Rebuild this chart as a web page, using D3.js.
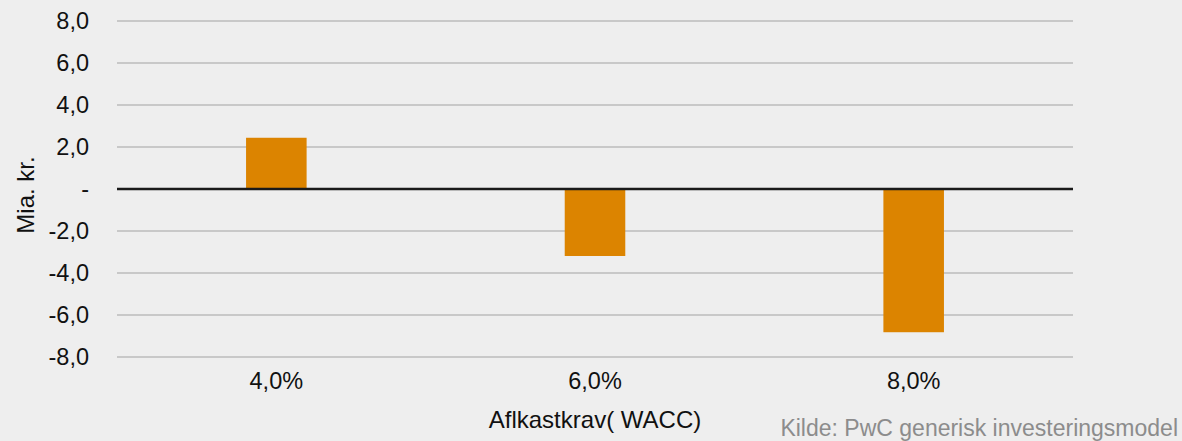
<!DOCTYPE html>
<html>
<head>
<meta charset="utf-8">
<script src="https://cdn.jsdelivr.net/npm/d3@7"></script>
<style>
  html, body { margin: 0; padding: 0; background: #eeeeee; }
  svg { display: block; font-family: "Liberation Sans", Arial, sans-serif; }
</style>
</head>
<body>
<div id="chart"></div>
<script>
// data
const categories = ['4,0%', '6,0%', '8,0%'];
const values = [2.44, -3.19, -6.82];
const yTicks = [8, 6, 4, 2, 0, -2, -4, -6, -8];

const width = 1182, height = 441;
const margin = {top: 21, right: 109, bottom: 84, left: 117};

const svg = d3.select('#chart').append('svg')
    .attr('width', width)
    .attr('height', height);

svg.append('rect')
    .attr('width', width)
    .attr('height', height)
    .attr('fill', '#eeeeee');

const x = d3.scaleBand()
    .domain(categories)
    .range([margin.left, width - margin.right])
    .paddingInner(0.81)
    .paddingOuter(0.405);

const y = d3.scaleLinear()
    .domain([-8, 8])
    .range([height - margin.bottom, margin.top]);

// gridlines
svg.append('g')
    .selectAll('line')
    .data(yTicks.filter(d => d !== 0))
    .enter()
    .append('line')
    .attr('x1', margin.left)
    .attr('x2', width - margin.right)
    .attr('y1', d => y(d))
    .attr('y2', d => y(d))
    .attr('stroke', '#bbbbbb')
    .attr('stroke-width', 1.6);

// y axis labels (plain hyphen for negatives, dash for zero)
const fmt = d => d === 0 ? '-' : d.toFixed(1).replace('.', ',');
const yAxis = d3.axisLeft(y).tickValues(yTicks).tickFormat(fmt).tickSize(0).tickPadding(0);
svg.append('g')
    .attr('transform', 'translate(89,0)')
    .call(yAxis)
    .call(g => g.select('.domain').remove())
    .selectAll('text')
    .attr('font-size', 23.5)
    .attr('font-family', '"Liberation Sans", Arial, sans-serif')
    .attr('fill', '#111');

// bars
svg.append('g')
    .selectAll('rect')
    .data(values)
    .enter()
    .append('rect')
    .attr('x', (d, i) => x(categories[i]))
    .attr('width', x.bandwidth())
    .attr('y', d => y(Math.max(0, d)))
    .attr('height', d => Math.abs(y(d) - y(0)))
    .attr('fill', '#dc8400');

// zero line
svg.append('line')
    .attr('x1', margin.left)
    .attr('x2', width - margin.right)
    .attr('y1', y(0))
    .attr('y2', y(0))
    .attr('stroke', '#1a1a1a')
    .attr('stroke-width', 2.4);

// x axis labels
const xAxis = d3.axisBottom(x).tickSize(0).tickPadding(0);
svg.append('g')
    .attr('transform', 'translate(0,' + (y(-8) + 15) + ')')
    .call(xAxis)
    .call(g => g.select('.domain').remove())
    .selectAll('text')
    .attr('font-size', 23.5)
    .attr('font-family', '"Liberation Sans", Arial, sans-serif')
    .attr('fill', '#111');

// axis titles
svg.append('text')
    .attr('x', (margin.left + width - margin.right) / 2)
    .attr('y', 428)
    .attr('text-anchor', 'middle')
    .attr('font-size', 24)
    .attr('fill', '#111')
    .text('Aflkastkrav( WACC)');

svg.append('text')
    .attr('transform', 'translate(34,' + 195 + ') rotate(-90)')
    .attr('text-anchor', 'middle')
    .attr('font-size', 24)
    .attr('fill', '#111')
    .text('Mia. kr.');

svg.append('text')
    .attr('x', 1178)
    .attr('y', 436)
    .attr('text-anchor', 'end')
    .attr('font-size', 23)
    .attr('fill', '#8c8c8c')
    .text('Kilde: PwC generisk investeringsmodel');
</script>
</body>
</html>
